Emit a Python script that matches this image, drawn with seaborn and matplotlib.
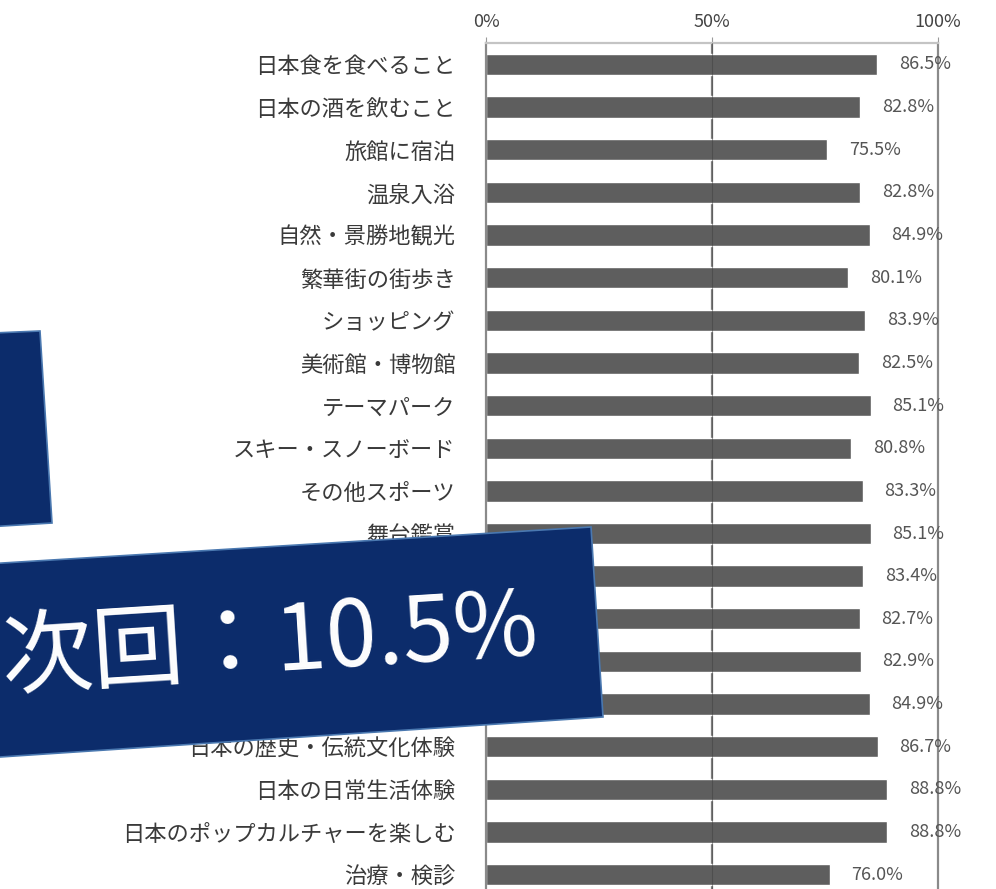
import numpy as np
import pandas as pd
import matplotlib.pyplot as plt
from matplotlib.patches import Polygon
import seaborn as sns

sns.set_style("white")
plt.rcParams['font.family'] = ['Noto Sans CJK JP', 'DejaVu Sans']

# 次回したいこと (%)
items = ['日本食を食べること', '日本の酒を飲むこと', '旅館に宿泊', '温泉入浴',
         '自然・景勝地観光', '繁華街の街歩き', 'ショッピング', '美術館・博物館',
         'テーマパーク', 'スキー・スノーボード', 'その他スポーツ', '舞台鑑賞',
         'スポーツ観戦', '自然体験ツアー・農漁村体験', '四季の体感', '映画・アニメ縁の地を訪問',
         '日本の歴史・伝統文化体験', '日本の日常生活体験', '日本のポップカルチャーを楽しむ', '治療・検診']
rates = [86.5, 82.8, 75.5, 82.8, 84.9, 80.1, 83.9, 82.5, 85.1, 80.8,
         83.3, 85.1, 83.4, 82.7, 82.9, 84.9, 86.7, 88.8, 88.8, 76.0]
xticks = [0, 50, 100]
xticklabels = ['0%', '50%', '100%']
banner_text = '次回：10.5%'

df = pd.DataFrame({'item': items, 'rate': rates})

fig = plt.figure(figsize=(9.96, 8.89), dpi=100)
ax = fig.add_axes([0.488, -0.0079, 0.4538, 0.9595])

sns.barplot(data=df, x='rate', y='item', color='#5e5e5e', saturation=1,
            width=0.5, ax=ax)

ax.set_xlim(0, 100)
ax.set_ylim(len(items) - 0.5, -0.5)
ax.set_xlabel('')
ax.set_ylabel('')

# x axis on top
ax.xaxis.tick_top()
ax.set_xticks(xticks)
ax.set_xticklabels(xticklabels, fontsize=13, color='#444444')
ax.tick_params(axis='x', length=4, color='#999999', pad=5)

# y axis: labels at the categories, small ticks between them
ax.set_yticks(range(len(items)))
ax.set_yticklabels(items, fontsize=16, color='#3a3a3a')
ax.set_yticks(np.arange(-0.5, len(items), 1), minor=True)
ax.tick_params(axis='y', which='major', length=0, pad=22)
ax.tick_params(axis='y', which='minor', length=4, color='#999999', direction='out')

# 50% gridline: gray behind, faint darker line through the bars
ax.axvline(50, color='#808080', lw=1.6, zorder=0)
ax.axvline(50, color='#404040', lw=0.8, alpha=0.5, zorder=3)
for side in ['left', 'right']:
    ax.spines[side].set_color('#8a8a8a')
    ax.spines[side].set_linewidth(1.6)
ax.spines['top'].set_color('#c4c4c4')
ax.spines['top'].set_linewidth(1.6)
ax.spines['bottom'].set_visible(False)

for i, v in enumerate(rates):
    ax.text(v + 4.8, i, f'{v:.1f}%', va='center', ha='left', fontsize=13,
            color='#555555', clip_on=False)

# overlay banners in pixel coordinates
ov = fig.add_axes([0, 0, 1, 1])
ov.set_xlim(0, 996)
ov.set_ylim(889, 0)
ov.axis('off')

navy = '#0c2c6b'
ov.add_patch(Polygon([(-30, 334), (40, 331), (52, 523), (-30, 528)],
                     closed=True, facecolor=navy, edgecolor='#4a78b0', lw=1.2))
ov.add_patch(Polygon([(-30, 565), (591, 527), (603, 717), (-30, 759)],
                     closed=True, facecolor=navy, edgecolor='#4a78b0', lw=1.2))
ov.text(270, 645, banner_text, color='white', fontsize=66, ha='center', va='center',
        rotation=3.6, rotation_mode='anchor')

fig.savefig('out.png', dpi=100)
